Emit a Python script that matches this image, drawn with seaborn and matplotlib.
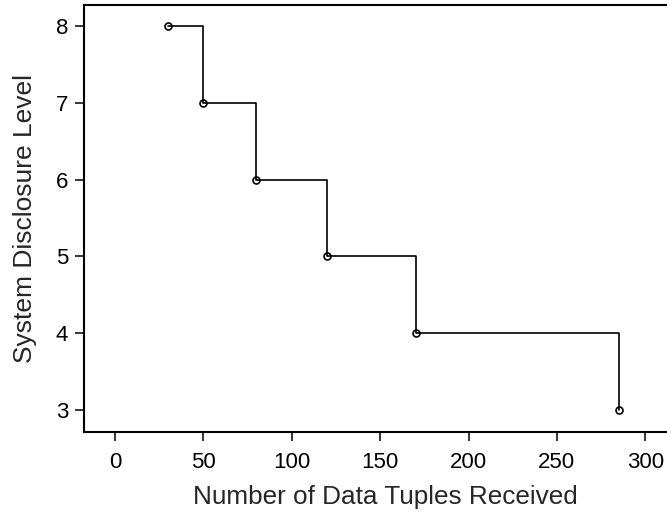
import matplotlib
matplotlib.use("Agg")
import matplotlib.pyplot as plt
import seaborn as sns
import pandas as pd

tuples_received = [30, 50, 80, 120, 170, 285]
disclosure_level = [8, 7, 6, 5, 4, 3]
x_ticks = [0, 50, 100, 150, 200, 250, 300]
y_ticks = [3, 4, 5, 6, 7, 8]

df = pd.DataFrame({"x": tuples_received, "y": disclosure_level})

sns.set_style("ticks")
plt.rcParams["font.family"] = ["Liberation Sans", "DejaVu Sans"]

fig = plt.figure(figsize=(6.67, 5.15), dpi=100)
ax = fig.add_axes([0.1264, 0.1617, 0.902, 0.8285])

sns.lineplot(data=df, x="x", y="y", ax=ax, sort=False, drawstyle="steps-post",
             color="black", linewidth=1.2, marker="o", markersize=5,
             markerfacecolor="none", markeredgecolor="black", markeredgewidth=1.2)

ax.set_xlim(-17.4, 323)
ax.set_ylim(2.72, 8.27)
ax.set_xticks(x_ticks)
ax.set_yticks(y_ticks)
ax.tick_params(axis="both", direction="out", length=6.5, width=1.1,
               labelsize=16, colors="black")
ax.tick_params(axis="x", pad=8)
ax.tick_params(axis="y", pad=5)
for s in ax.spines.values():
    s.set_linewidth(1.5)
    s.set_color("black")
ax.set_xlabel("Number of Data Tuples Received", fontsize=18.8, labelpad=9)
ax.set_ylabel("System Disclosure Level", fontsize=19, labelpad=14)

fig.savefig("out.png", dpi=100)
